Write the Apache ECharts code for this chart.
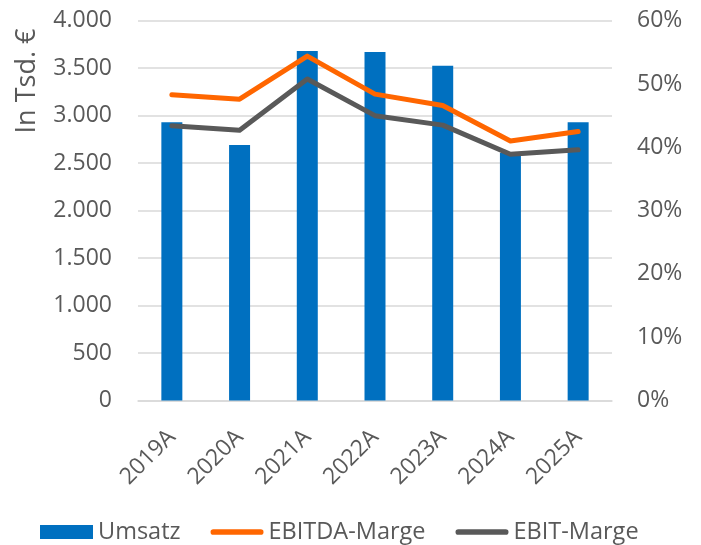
<!DOCTYPE html>
<html>
<head>
<meta charset="utf-8">
<script src="https://cdn.jsdelivr.net/npm/echarts@6/dist/echarts.min.js"></script>
<style>html,body{margin:0;padding:0;background:#fff}#c{width:701px;height:545px}</style>
</head>
<body>
<div id="c"></div>
<script>
var categories = ['2019A','2020A','2021A','2022A','2023A','2024A','2025A'];
var umsatz = [2930, 2690, 3680, 3670, 3525, 2610, 2930];
var ebitdaMarge = [48.3, 47.6, 54.4, 48.4, 46.6, 41.0, 42.5];
var ebitMarge = [43.4, 42.7, 50.8, 45.0, 43.5, 38.9, 39.6];
var leftTicks = {min: 0, max: 4000, interval: 500};
var rightTicks = {min: 0, max: 60, interval: 10};

var txt = '#595959';
var font = 'Open Sans';
var lineIcon = 'path://M3,0 H53 A3,3 0 0 1 53,6 H3 A3,3 0 0 1 3,0 Z';
var chart = echarts.init(document.getElementById('c'), null, {renderer: 'canvas'});
chart.setOption({
  animation: false,
  textStyle: {fontFamily: font, color: txt},
  grid: {left: 138, right: 89, top: 20.7, bottom: 144.5, containLabel: false},
  legend: {
    top: 515, left: 35,
    itemWidth: 53, itemHeight: 14, itemGap: 30,
    symbolKeepAspect: true,
    textStyle: {fontSize: 23.5, color: txt, fontFamily: font},
    data: [{name: 'Umsatz', icon: 'rect'}, {name: 'EBITDA-Marge', icon: lineIcon}, {name: 'EBIT-Marge', icon: lineIcon}]
  },
  graphic: [{
    type: 'text', x: 27, y: 81, rotation: Math.PI / 2,
    style: {text: 'In Tsd. €', fill: txt, font: '27px "Open Sans"', textAlign: 'center', textVerticalAlign: 'middle'}
  }],
  xAxis: {
    type: 'category', data: categories,
    axisLine: {lineStyle: {color: '#d9d9d9', width: 1.5}},
    axisTick: {show: false},
    axisLabel: {rotate: 45, fontSize: 23, color: txt, margin: 33, fontFamily: font}
  },
  yAxis: [{
    type: 'value', min: leftTicks.min, max: leftTicks.max, interval: leftTicks.interval,
    axisLine: {show: false}, axisTick: {show: false},
    splitLine: {lineStyle: {color: '#d9d9d9', width: 1.5}},
    axisLabel: {fontSize: 23, color: txt, margin: 26, fontFamily: font,
      formatter: function (v) { return String(v).replace(/\B(?=(\d{3})+(?!\d))/g, '.'); }}
  }, {
    type: 'value', min: rightTicks.min, max: rightTicks.max, interval: rightTicks.interval,
    axisLine: {show: false}, axisTick: {show: false}, splitLine: {show: false},
    axisLabel: {fontSize: 23, color: txt, margin: 25, fontFamily: font, formatter: '{value}%'}
  }],
  series: [{
    name: 'Umsatz', type: 'bar', data: umsatz, barWidth: '31%',
    itemStyle: {color: '#0070C0'}
  }, {
    name: 'EBITDA-Marge', type: 'line', yAxisIndex: 1, data: ebitdaMarge,
    symbol: 'none', lineStyle: {color: '#FF6600', width: 5, cap: 'round', join: 'round'},
    itemStyle: {color: '#FF6600'}
  }, {
    name: 'EBIT-Marge', type: 'line', yAxisIndex: 1, data: ebitMarge,
    symbol: 'none', lineStyle: {color: '#595959', width: 5, cap: 'round', join: 'round'},
    itemStyle: {color: '#595959'}
  }]
});
</script>
</body>
</html>
